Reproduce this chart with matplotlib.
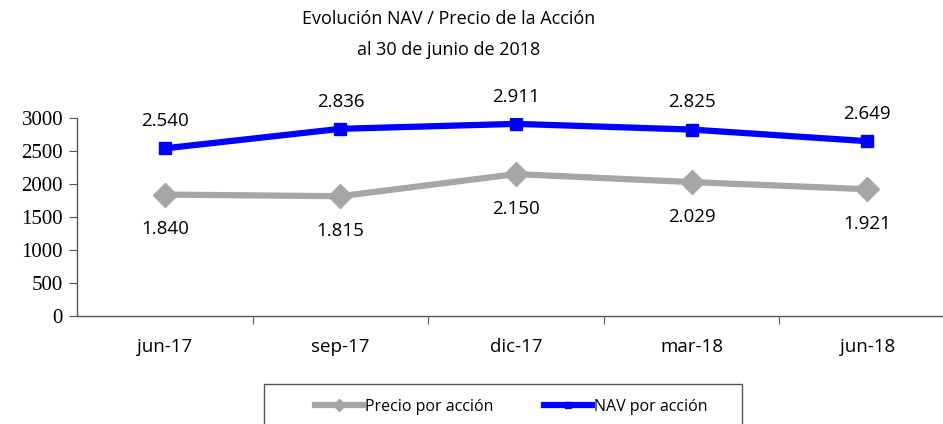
import matplotlib
matplotlib.use("Agg")
import matplotlib.pyplot as plt
from matplotlib.patches import Rectangle

periodos = ["jun-17", "sep-17", "dic-17", "mar-18", "jun-18"]
nav = [2540, 2836, 2911, 2825, 2649]
precio = [1840, 1815, 2150, 2029, 1921]


def fmt(v):
    # separador de miles con punto
    return f"{v:,}".replace(",", ".")


fig = plt.figure(figsize=(9.43, 4.24), dpi=100)
ax = fig.add_axes([77 / 943, 108 / 424, 878 / 943, 198 / 424])

x = list(range(len(periodos)))
ax.plot(x, precio, color="#A6A6A6", lw=4.5, marker="D", ms=12,
        label="Precio por acción", zorder=3)
ax.plot(x, nav, color="#0000FF", lw=4.5, marker="s", ms=9,
        label="NAV por acción", zorder=4)

for i, v in enumerate(nav):
    ax.annotate(fmt(v), (i, v), xytext=(0, 19.5), textcoords="offset points",
                ha="center", va="center", fontsize=13.5, family="Open Sans")
for i, v in enumerate(precio):
    ax.annotate(fmt(v), (i, v), xytext=(0, -25), textcoords="offset points",
                ha="center", va="center", fontsize=13.5, family="Open Sans")

ax.set_xlim(-0.5, len(periodos) - 0.5)
ax.set_ylim(0, 3000)
ax.set_yticks(range(0, 3001, 500))
ax.set_xticks([i - 0.5 for i in range(1, len(periodos) + 1)])
ax.set_xticklabels([])
ax.set_xticks(x, minor=True)
ax.set_xticklabels(periodos, minor=True, fontsize=13.5, family="Open Sans")
ax.tick_params(axis="x", which="minor", length=0, pad=16)
ax.tick_params(axis="x", which="major", length=6, direction="out", color="#555555")
ax.tick_params(axis="y", length=6, direction="out", color="#555555", pad=4)
for lab in ax.get_yticklabels():
    lab.set_family("Liberation Serif")
    lab.set_fontsize(15)

for s in ["top", "right"]:
    ax.spines[s].set_visible(False)
for s in ["left", "bottom"]:
    ax.spines[s].set_color("#555555")
    ax.spines[s].set_linewidth(1)

fig.text(449 / 943, 1 - 19 / 424, "Evolución NAV / Precio de la Acción",
         ha="center", va="center", fontsize=13, family="Open Sans")
fig.text(449 / 943, 1 - 50 / 424, "al 30 de junio de 2018",
         ha="center", va="center", fontsize=13, family="Open Sans")

# marco de la leyenda (cortado por el borde inferior, como en el original)
fig.patches.append(Rectangle((264 / 943, -20 / 424), 478 / 943, 60 / 424,
                             transform=fig.transFigure, fill=False,
                             edgecolor="#555555", lw=1))
handles, labels = ax.get_legend_handles_labels()
fig.legend(handles, labels, loc="center", bbox_to_anchor=(511 / 943, 1 - 407 / 424),
           ncol=2, frameon=False, prop={"family": "Open Sans", "size": 11.5},
           handlelength=3, handletextpad=0.1, columnspacing=3.2, markerscale=0.5,
           borderpad=0)

fig.savefig("out.png", dpi=100)
